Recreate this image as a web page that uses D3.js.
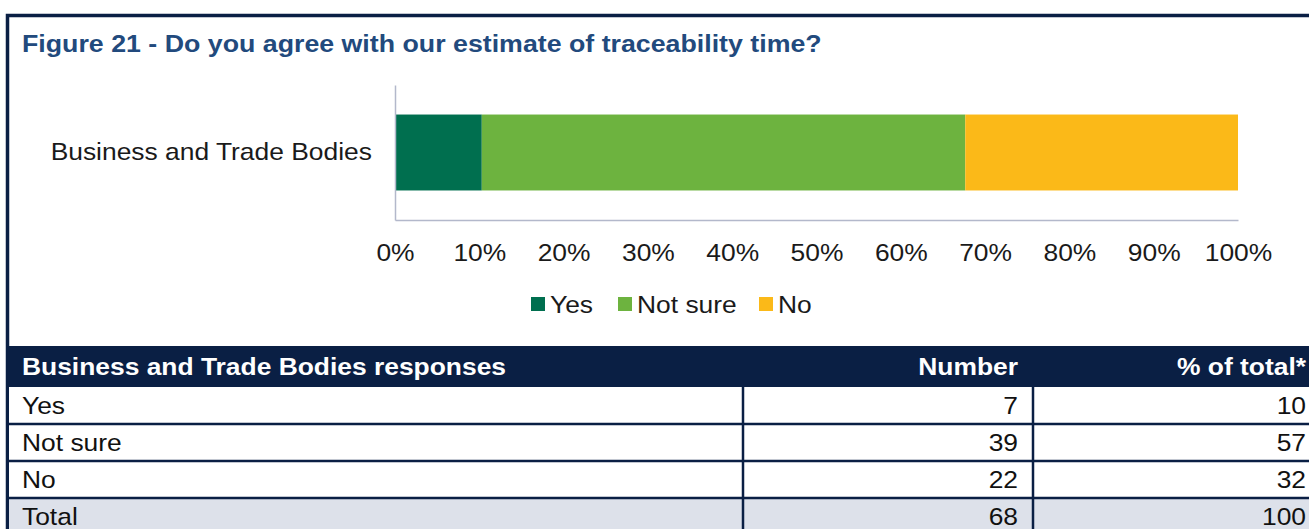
<!DOCTYPE html>
<html>
<head>
<meta charset="utf-8">
<script src="https://cdn.jsdelivr.net/npm/d3@7"></script>
<style>
  body { margin: 0; background: #fff; }
  text { font-family: "Liberation Sans", Arial, sans-serif; }
</style>
</head>
<body>
<div id="chart"></div>
<script>
// chart data
var title = "Figure 21 - Do you agree with our estimate of traceability time?";
var categories = ["Business and Trade Bodies"];
var answers = ["Yes", "Not sure", "No"];
var counts = [7, 39, 22];
var percents = [10, 57, 32];
var totalCount = 68;
var totalPercent = 100;
var tickValues = [0, 0.1, 0.2, 0.3, 0.4, 0.5, 0.6, 0.7, 0.8, 0.9, 1];
var tableHeader = ["Business and Trade Bodies responses", "Number", "% of total*"];

var W = 1309, H = 529;
var navy = "#0a1f44";
var stretch = 1.1;   // the source text is a bit wider than plain Arial

var svg = d3.select("#chart")
    .append("svg")
        .attr("width", W)
        .attr("height", H);

// text placed at (x,y) and widened a little
function label(parent, x, y, str) {
    return parent.append("text")
        .attr("transform", "translate(" + x + "," + y + ") scale(" + stretch + ",1)")
        .text(str);
}

// outer frame (top + left edges visible)
svg.append("rect")
    .attr("x", 7.5)
    .attr("y", 15.5)
    .attr("width", W + 20)
    .attr("height", H + 20)
    .attr("fill", "none")
    .attr("stroke", navy)
    .attr("stroke-width", 3.5);

label(svg, 22, 52, title)
    .attr("fill", "#224a7d")
    .attr("font-weight", "bold")
    .attr("font-size", "24px")
    .attr("transform", "translate(22,52) scale(1.115,1)");

// bar chart
var plot = {left: 395, right: 1238, top: 85, bottom: 220};

var x = d3.scaleLinear()
    .domain([0, 1])
    .range([plot.left, plot.right]);

var y = d3.scaleBand()
    .domain(categories)
    .range([plot.top, plot.bottom])
    .padding(0.28);

var color = d3.scaleOrdinal()
    .domain(answers)
    .range(["#006f4f", "#6db33f", "#fbb918"]);

var rows = categories.map(function(c) {
    var r = {category: c};
    answers.forEach(function(a, i) { r[a] = counts[i]; });
    return r;
});

var series = d3.stack()
    .keys(answers)
    .offset(d3.stackOffsetExpand)(rows);

svg.append("g")
    .selectAll("g")
    .data(series)
    .enter().append("g")
        .attr("fill", function(d) { return color(d.key); })
    .selectAll("rect")
    .data(function(d) { return d; })
    .enter().append("rect")
        .attr("x", function(d) { return x(d[0]); })
        .attr("y", function(d) { return y(d.data.category); })
        .attr("width", function(d) { return x(d[1]) - x(d[0]); })
        .attr("height", y.bandwidth());

// axes
var xAxis = svg.append("g")
    .attr("transform", "translate(0," + plot.bottom + ")")
    .call(d3.axisBottom(x).tickValues(tickValues).tickFormat(d3.format(".0%")).tickSize(0).tickPadding(24));
xAxis.select(".domain").attr("stroke", "#b3b8cb").attr("stroke-width", 1.5);
xAxis.selectAll("text")
    .attr("font-family", "Liberation Sans, Arial, sans-serif")
    .attr("font-size", "24px")
    .attr("fill", "#1a1a1a")
    .attr("transform", "scale(" + stretch + ",1)");

var yAxis = svg.append("g")
    .attr("transform", "translate(" + plot.left + ",0)")
    .call(d3.axisLeft(y).tickSize(0).tickPadding(21));
yAxis.select(".domain").attr("stroke", "#b3b8cb").attr("stroke-width", 1.5);
yAxis.selectAll("text")
    .attr("font-family", "Liberation Sans, Arial, sans-serif")
    .attr("font-size", "24px")
    .attr("fill", "#1a1a1a")
    .attr("transform", "scale(" + stretch + ",1)");

// legend
var legendX = [531, 618, 759];
var legend = svg.append("g").attr("font-size", "24px").attr("fill", "#1a1a1a");
answers.forEach(function(a, i) {
    legend.append("rect")
        .attr("x", legendX[i])
        .attr("y", 297)
        .attr("width", 14)
        .attr("height", 14)
        .attr("fill", color(a));
    label(legend, legendX[i] + 19, 313, a);
});

// table
var tbl = {left: 9, top: 346, headH: 41, rowH: 37, col1: 743, col2: 1033, right: W};
var tableRows = answers.map(function(a, i) { return [a, counts[i], percents[i]]; });
tableRows.push(["Total", totalCount, totalPercent]);

svg.append("rect")
    .attr("x", tbl.left)
    .attr("y", tbl.top)
    .attr("width", tbl.right - tbl.left)
    .attr("height", tbl.headH)
    .attr("fill", navy);

var head = svg.append("g").attr("fill", "#fff").attr("font-weight", "bold").attr("font-size", "24px");
label(head, 22, tbl.top + 29, tableHeader[0]);
label(head, tbl.col2 - 15, tbl.top + 29, tableHeader[1]).attr("text-anchor", "end");
label(head, tbl.right - 3, tbl.top + 29, tableHeader[2]).attr("text-anchor", "end");

var bodyTop = tbl.top + tbl.headH;
var body = svg.append("g");

tableRows.forEach(function(d, i) {
    var top = bodyTop + i * tbl.rowH;
    body.append("rect")
        .attr("x", tbl.left)
        .attr("y", top)
        .attr("width", tbl.right - tbl.left)
        .attr("height", tbl.rowH)
        .attr("fill", i === tableRows.length - 1 ? "#dde1ea" : "#fff");

    var g = body.append("g").attr("font-size", "24px").attr("fill", "#111");
    label(g, 22, top + 27, d[0]);
    label(g, tbl.col2 - 15, top + 27, d[1]).attr("text-anchor", "end");
    label(g, tbl.right - 3, top + 27, d[2]).attr("text-anchor", "end");

    // row divider
    if (i > 0) {
        body.append("line")
            .attr("x1", tbl.left)
            .attr("x2", tbl.right)
            .attr("y1", top)
            .attr("y2", top)
            .attr("stroke", navy)
            .attr("stroke-width", 2.5);
    }
});

// column dividers
[tbl.col1, tbl.col2].forEach(function(cx) {
    svg.append("line")
        .attr("x1", cx)
        .attr("x2", cx)
        .attr("y1", bodyTop)
        .attr("y2", H)
        .attr("stroke", navy)
        .attr("stroke-width", 2.5);
});
</script>
</body>
</html>
